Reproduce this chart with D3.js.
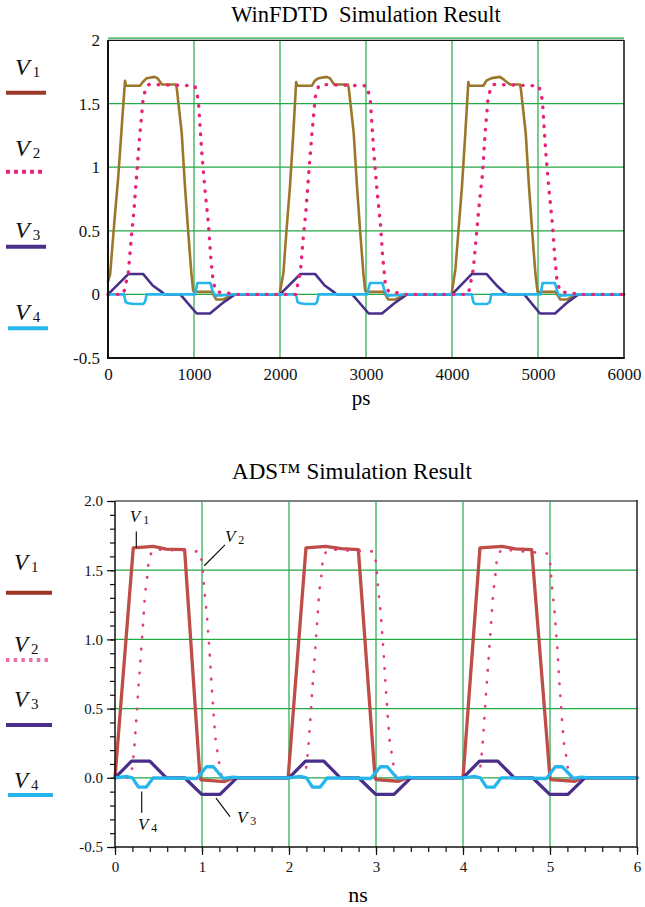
<!DOCTYPE html>
<html>
<head>
<meta charset="utf-8">
<script src="https://cdn.jsdelivr.net/npm/d3@7"></script>
<style>
  body { margin: 0; background: #fff; }
  svg { display: block; font-family: "Liberation Serif", "Times New Roman", serif; }
  svg text { font-family: "Liberation Serif", "Times New Roman", serif; white-space: pre; }
</style>
</head>
<body>
<svg id="chart" width="645" height="907"></svg>
<script>
// ---------- data: WinFDTD panel (time in ps, volts) ----------
const fdtdV1 = [[0,0.1],[25,0.16],[80,0.62],[120,0.93],[160,1.32],[198,1.68],[210,1.64],[372,1.64],[405,1.67],[450,1.70],[540,1.71],[575,1.70],[628,1.65],[790,1.65],[800,1.62],[857,1.27],[895,0.85],[934,0.48],[969,0.17],[990,0.03],[1000,0.02],[1205,0.02],[1260,-0.04],[1340,-0.04],[1450,0],
  [1995,0],[2040,0.17],[2075,0.5],[2116,0.85],[2155,1.27],[2188,1.67],[2200,1.64],[2370,1.64],[2405,1.68],[2450,1.70],[2540,1.71],[2580,1.70],[2630,1.65],[2790,1.65],[2800,1.62],[2857,1.27],[2895,0.85],[2934,0.48],[2969,0.17],[2990,0.03],[3000,0.02],[3205,0.02],[3260,-0.04],[3340,-0.04],[3450,0],
  [3995,0],[4040,0.2],[4075,0.5],[4116,0.85],[4155,1.27],[4190,1.67],[4200,1.64],[4364,1.64],[4400,1.68],[4461,1.70],[4558,1.71],[4600,1.69],[4674,1.65],[4791,1.65],[4800,1.62],[4857,1.27],[4895,0.85],[4934,0.48],[4969,0.17],[4995,0.02],[5205,0.02],[5260,-0.04],[5340,-0.04],[5450,0],[6000,0]];
const fdtdV2 = [[0,0],[180,0],[236,0.17],[275,0.48],[302,0.66],[334,0.95],[372,1.27],[410,1.55],[450,1.64],[480,1.65],[1010,1.64],[1050,1.53],[1089,1.13],[1128,0.82],[1167,0.56],[1194,0.3],[1224,0.09],[1264,0.02],[1400,0.01],[1450,0],
  [2180,0],[2236,0.17],[2275,0.48],[2302,0.66],[2334,0.95],[2372,1.27],[2410,1.55],[2450,1.64],[2480,1.65],[3010,1.64],[3050,1.53],[3089,1.13],[3128,0.82],[3167,0.56],[3194,0.3],[3224,0.09],[3264,0.02],[3400,0.01],[3450,0],
  [4190,0],[4248,0.2],[4285,0.48],[4315,0.7],[4355,0.95],[4385,1.27],[4420,1.55],[4460,1.64],[4490,1.65],[5010,1.64],[5050,1.53],[5089,1.13],[5128,0.82],[5167,0.56],[5194,0.3],[5224,0.09],[5264,0.02],[5400,0.01],[5450,0],[6000,0]];
const fdtdV3 = [[0,0],[236,0.16],[410,0.16],[520,0.07],[623,0.02],[660,0],[840,0],[1031,-0.15],[1186,-0.15],[1330,-0.07],[1477,0],
  [2000,0],[2236,0.16],[2410,0.16],[2520,0.07],[2623,0.02],[2660,0],[2840,0],[3031,-0.15],[3186,-0.15],[3330,-0.07],[3477,0],
  [4000,0],[4229,0.16],[4403,0.16],[4520,0.07],[4616,0.01],[4660,0],[4840,0],[5023,-0.15],[5198,-0.15],[5330,-0.07],[5469,0],[6000,0]];
const fdtdV4 = [[0,0],[186,0],[205,-0.06],[236,-0.07],[300,-0.075],[410,-0.075],[430,-0.06],[450,0],[1012,0],[1038,0.09],[1190,0.09],[1215,0.03],[1244,-0.01],[1400,-0.005],[1450,0],
  [2186,0],[2205,-0.06],[2236,-0.07],[2300,-0.075],[2410,-0.075],[2430,-0.06],[2450,0],[3012,0],[3047,0.09],[3190,0.09],[3215,0.03],[3244,-0.01],[3400,-0.005],[3450,0],
  [4230,0],[4248,-0.06],[4270,-0.075],[4410,-0.075],[4440,-0.06],[4457,0],[5030,0],[5054,0.09],[5198,0.09],[5220,0.03],[5244,-0.01],[5400,-0.005],[5450,0],[6000,0]];

// ---------- data: ADS panel (time in ns, volts) ----------
const adsV1 = [[0,0],[0.21,1.662],[0.44,1.672],[0.59,1.652],[0.80,1.648],[0.977,0],[0.99,-0.015],[1.26,-0.027],[1.36,0],
  [1.99,0],[2.195,1.662],[2.42,1.672],[2.6,1.656],[2.797,1.648],[2.989,0],[3.0,-0.013],[3.26,-0.025],[3.36,0],
  [4.0,0],[4.195,1.662],[4.45,1.672],[4.6,1.654],[4.79,1.648],[5.0,0],[5.01,-0.013],[5.287,-0.025],[5.37,0],[6,0]];
const adsV2 = [[0,0],[0.17,0],[0.19,0.03],[0.22,0.2],[0.249,0.46],[0.268,0.64],[0.287,0.8],[0.318,1.07],[0.345,1.33],[0.37,1.45],[0.39,1.59],[0.44,1.65],[0.977,1.635],[1.004,1.54],[1.023,1.38],[1.054,1.19],[1.084,0.94],[1.11,0.67],[1.138,0.42],[1.16,0.25],[1.188,0.15],[1.207,0.06],[1.23,0],
  [2.17,0],[2.19,0.03],[2.22,0.2],[2.249,0.46],[2.268,0.64],[2.287,0.8],[2.318,1.07],[2.345,1.33],[2.37,1.45],[2.39,1.59],[2.44,1.65],[2.977,1.635],[3.004,1.54],[3.023,1.38],[3.054,1.19],[3.084,0.94],[3.11,0.67],[3.138,0.42],[3.16,0.25],[3.188,0.15],[3.207,0.06],[3.23,0],
  [4.17,0],[4.19,0.03],[4.22,0.2],[4.249,0.46],[4.268,0.64],[4.287,0.8],[4.318,1.07],[4.345,1.33],[4.37,1.45],[4.39,1.59],[4.44,1.65],[4.977,1.62],[5.004,1.54],[5.023,1.38],[5.054,1.19],[5.084,0.94],[5.11,0.67],[5.138,0.42],[5.16,0.25],[5.188,0.15],[5.207,0.06],[5.23,0],[6,0]];
const adsV3 = [[0,0],[0.19,0.12],[0.40,0.12],[0.59,0],[0.80,0],[0.997,-0.12],[1.207,-0.12],[1.40,0],
  [2,0],[2.19,0.12],[2.40,0.12],[2.59,0],[2.80,0],[2.997,-0.12],[3.207,-0.12],[3.40,0],
  [4,0],[4.19,0.12],[4.40,0.12],[4.59,0],[4.80,0],[4.997,-0.12],[5.207,-0.12],[5.40,0],[6,0]];
const adsV4 = [[0,0],[0.13,0.01],[0.2,0],[0.27,-0.067],[0.36,-0.067],[0.44,0],[0.94,-0.005],[1.05,0.08],[1.13,0.08],[1.245,-0.005],[1.36,0.005],[1.45,0],
  [2,0],[2.13,0.01],[2.2,0],[2.27,-0.067],[2.36,-0.067],[2.44,0],[2.94,-0.005],[3.05,0.08],[3.13,0.08],[3.245,-0.005],[3.36,0.005],[3.45,0],
  [4,0],[4.13,0.01],[4.2,0],[4.27,-0.067],[4.36,-0.067],[4.44,0],[4.96,-0.005],[5.06,0.08],[5.14,0.08],[5.27,-0.005],[5.36,0.005],[5.45,0],[6,0]];

// ---------- tick values ----------
const fdtdXTicks = [0, 1000, 2000, 3000, 4000, 5000, 6000];
const fdtdYTicks = [-0.5, 0, 0.5, 1, 1.5, 2];
const adsXTicks = [0, 1, 2, 3, 4, 5, 6];
const adsYTicks = [-0.5, 0, 0.5, 1, 1.5, 2];
const adsYLabels = ['-0.5', '0.0', '0.5', '1.0', '1.5', '2.0'];
const legendNames = ['1', '2', '3', '4'];

// ADS in-plot callouts: [subscript, label t, label v, leader t1, v1, t2, v2]
const adsCallouts = [
  ['1', 0.17, 1.85, 0.245, 1.78, 0.245, 1.662],
  ['2', 1.264, 1.707, 1.264, 1.683, 1.026, 1.532],
  ['4', 0.264, -0.376, 0.307, -0.099, 0.307, -0.253],
  ['3', 1.402, -0.325, 1.161, -0.147, 1.322, -0.28]
];

const svg = d3.select('#chart');
const GREEN = '#22a845';
const SERIF = '"Liberation Serif", "Times New Roman", serif';

function vLabel(sel, x, y, sub, big, small) {
  const t = sel.append('text').attr('x', x).attr('y', y).attr('fill', '#111');
  t.append('tspan').attr('font-style', 'italic').attr('font-size', big).text('V');
  t.append('tspan').attr('font-size', small).attr('dx', 3).attr('dy', 2).text(sub);
}

// =============== Panel 1: WinFDTD ===============
(function(){
  const x = d3.scaleLinear().domain([0, 6000]).range([108, 624]);
  const y = d3.scaleLinear().domain([-0.5, 2]).range([358, 40]);
  const g = svg.append('g');

  g.append('text').attr('x', 366).attr('y', 22).attr('text-anchor', 'middle')
    .attr('font-size', 22.5).text('WinFDTD  Simulation Result');

  // grid
  g.append('g').selectAll('line').data(fdtdXTicks.slice(1, -1)).join('line')
    .attr('x1', d => x(d)).attr('x2', d => x(d)).attr('y1', y(2)).attr('y2', y(-0.5))
    .attr('stroke', GREEN).attr('stroke-width', 1.2);
  g.append('g').selectAll('line').data(fdtdYTicks.slice(1, -1)).join('line')
    .attr('x1', x(0)).attr('x2', x(6000)).attr('y1', d => y(d)).attr('y2', d => y(d))
    .attr('stroke', GREEN).attr('stroke-width', 1.2);

  // curves
  const line = d3.line().x(d => x(d[0])).y(d => y(d[1]));
  const curves = [
    [fdtdV1, '#9b772b', null, 2.6],
    [fdtdV3, '#4a2f8a', null, 2.6],
    [fdtdV4, '#27b6ec', null, 2.6],
    [fdtdV2, '#e8237d', '0.5 9', 3.4]
  ];
  curves.forEach(([data, col, dash, w]) => {
    g.append('path').datum(data).attr('d', line).attr('fill', 'none')
      .attr('stroke', col).attr('stroke-width', w).attr('stroke-linejoin', 'round')
      .attr('stroke-linecap', 'round').attr('stroke-dasharray', dash);
  });

  // frame
  g.append('line').attr('x1', x(0)).attr('x2', x(6000)).attr('y1', y(2) - 1.8).attr('y2', y(2) - 1.8)
    .attr('stroke', GREEN).attr('stroke-width', 1.3);
  g.append('line').attr('x1', x(0)).attr('x2', x(6000)).attr('y1', y(2) + 0.3).attr('y2', y(2) + 0.3)
    .attr('stroke', '#111').attr('stroke-width', 1.2);
  g.append('line').attr('x1', x(6000)).attr('x2', x(6000)).attr('y1', y(2)).attr('y2', y(-0.5))
    .attr('stroke', '#111').attr('stroke-width', 1.5);
  g.append('line').attr('x1', x(0)).attr('x2', x(0)).attr('y1', y(2)).attr('y2', y(-0.5) + 1)
    .attr('stroke', '#111').attr('stroke-width', 2);
  g.append('line').attr('x1', x(0) - 1).attr('x2', x(6000) + 0.75).attr('y1', y(-0.5)).attr('y2', y(-0.5))
    .attr('stroke', '#111').attr('stroke-width', 2);

  // axes (labels only)
  const ya = g.append('g').attr('transform', `translate(${x(0)},0)`)
    .call(d3.axisLeft(y).tickValues(fdtdYTicks).tickSize(0).tickPadding(8).tickFormat(d => String(d)));
  const xa = g.append('g').attr('transform', `translate(0,${y(-0.5)})`)
    .call(d3.axisBottom(x).tickValues(fdtdXTicks).tickSize(0).tickPadding(10).tickFormat(d => String(d)));
  [ya, xa].forEach(a => {
    a.attr('font-family', SERIF).attr('font-size', 17);
    a.select('.domain').remove();
    a.selectAll('text').style('font-family', SERIF).style('font-size', '17px').attr('fill', '#111');
  });

  g.append('text').attr('x', 361).attr('y', 405).attr('text-anchor', 'middle')
    .attr('font-size', 21).text('ps');

  // legend
  const leg = [
    [75, 92.7, '#9b3a2b', null, 6, 46],
    [156, 171.7, '#e8237d', '4 4', 6, 46],
    [238, 246.7, '#4a2f8a', null, 6, 46],
    [320, 328.3, '#27b6ec', null, 8, 48]
  ];
  leg.forEach(([ty, ly, col, dash, x1, x2], i) => {
    vLabel(g, 15, ty, legendNames[i], 24, 15);
    g.append('line').attr('x1', x1).attr('x2', x2).attr('y1', ly).attr('y2', ly)
      .attr('stroke', col).attr('stroke-width', 4).attr('stroke-dasharray', dash);
  });
})();

// =============== Panel 2: ADS ===============
(function(){
  const x = d3.scaleLinear().domain([0, 6]).range([115, 637]);
  const y = d3.scaleLinear().domain([-0.5, 2]).range([847, 501]);
  const g = svg.append('g');

  g.append('text').attr('x', 352).attr('y', 479).attr('text-anchor', 'middle')
    .attr('font-size', 23).text('ADS™ Simulation Result');

  // grid
  g.append('g').selectAll('line').data(adsXTicks.slice(1, -1)).join('line')
    .attr('x1', d => x(d)).attr('x2', d => x(d)).attr('y1', y(2)).attr('y2', y(-0.5))
    .attr('stroke', GREEN).attr('stroke-width', 1.2);
  g.append('g').selectAll('line').data(adsYTicks.slice(1, -1)).join('line')
    .attr('x1', x(0)).attr('x2', x(6)).attr('y1', d => y(d)).attr('y2', d => y(d))
    .attr('stroke', GREEN).attr('stroke-width', 1.2);

  // curves
  const line = d3.line().x(d => x(d[0])).y(d => y(d[1]));
  const curves = [
    [adsV1, '#bd4d46', null, 3.3],
    [adsV2, '#e33a86', '0.5 11.5', 2.6],
    [adsV3, '#4a2f8a', null, 3.3],
    [adsV4, '#27b6ec', null, 3.3]
  ];
  curves.forEach(([data, col, dash, w]) => {
    g.append('path').datum(data).attr('d', line).attr('fill', 'none')
      .attr('stroke', col).attr('stroke-width', w).attr('stroke-linejoin', 'round')
      .attr('stroke-linecap', 'round').attr('stroke-dasharray', dash);
  });

  // frame
  g.append('line').attr('x1', x(0)).attr('x2', x(6)).attr('y1', y(2)).attr('y2', y(2))
    .attr('stroke', '#808080').attr('stroke-width', 2);
  g.append('line').attr('x1', x(6)).attr('x2', x(6)).attr('y1', y(2) - 1).attr('y2', y(-0.5))
    .attr('stroke', '#222').attr('stroke-width', 1.5);

  // minor + major ticks
  const yMinor = d3.range(-5, 21).map(i => i / 10);
  const xMinor = d3.range(0, 31).map(i => i / 5);
  const ym = g.append('g').attr('transform', `translate(${x(0)},0)`)
    .call(d3.axisLeft(y).tickValues(yMinor).tickSize(5).tickFormat(''));
  const xm = g.append('g').attr('transform', `translate(0,${y(-0.5)})`)
    .call(d3.axisBottom(x).tickValues(xMinor).tickSize(5).tickFormat(''));
  const ya = g.append('g').attr('transform', `translate(${x(0)},0)`)
    .call(d3.axisLeft(y).tickValues(adsYTicks).tickSize(8).tickPadding(4).tickFormat((d, i) => adsYLabels[i]));
  const xa = g.append('g').attr('transform', `translate(0,${y(-0.5)})`)
    .call(d3.axisBottom(x).tickValues(adsXTicks).tickSize(8).tickPadding(6).tickFormat(d => String(d)));
  [ym, xm, ya, xa].forEach(a => {
    a.attr('font-family', SERIF).attr('font-size', 15);
    a.select('.domain').remove();
    a.selectAll('line').attr('stroke', '#111').attr('stroke-width', 1.2);
    a.selectAll('text').style('font-family', SERIF).style('font-size', '15px').attr('fill', '#111');
  });
  g.append('line').attr('x1', x(0)).attr('x2', x(0)).attr('y1', y(2)).attr('y2', y(-0.5))
    .attr('stroke', '#111').attr('stroke-width', 1.5);
  g.append('line').attr('x1', x(0)).attr('x2', x(6)).attr('y1', y(-0.5)).attr('y2', y(-0.5))
    .attr('stroke', '#111').attr('stroke-width', 1.5);

  g.append('text').attr('x', 358).attr('y', 902).attr('text-anchor', 'middle')
    .attr('font-size', 22).text('ns');

  // callouts
  adsCallouts.forEach(([sub, lt, lv, t1, v1, t2, v2]) => {
    g.append('line').attr('x1', x(t1)).attr('y1', y(v1)).attr('x2', x(t2)).attr('y2', y(v2))
      .attr('stroke', '#111').attr('stroke-width', 1.2);
    vLabel(g, x(lt), y(lv), sub, 17, 12);
  });

  // legend
  const leg = [
    [570, 592.7, '#9f3426', null, 6, 52],
    [651.7, 660, '#ef6ea5', '3.4 4.3', 6, 52],
    [706.7, 725, '#4a2f8a', null, 6, 52],
    [788, 795, '#27b6ec', null, 8, 53]
  ];
  leg.forEach(([ty, ly, col, dash, x1, x2], i) => {
    vLabel(g, 14, ty, legendNames[i], 23, 15);
    g.append('line').attr('x1', x1).attr('x2', x2).attr('y1', ly).attr('y2', ly)
      .attr('stroke', col).attr('stroke-width', 4).attr('stroke-dasharray', dash);
  });
})();
</script>
</body>
</html>
